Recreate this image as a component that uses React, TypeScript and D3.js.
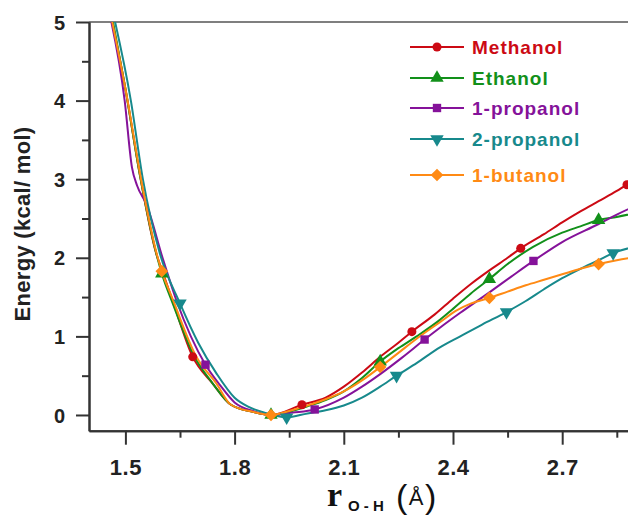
import React, { useEffect, useRef } from 'react';
import * as d3 from 'd3';

// r(O-H) in angstrom, energy in kcal/mol
const methanolX = [1.455, 1.5, 1.54, 1.585, 1.6, 1.63, 1.685, 1.74, 1.79, 1.85, 1.9, 1.985, 2.05, 2.1, 2.15, 2.2, 2.25, 2.287, 2.35, 2.4, 2.45, 2.5, 2.55, 2.586, 2.65, 2.7, 2.75, 2.8, 2.85, 2.878, 2.92];
const methanolY = [5.2, 4.15, 3.05, 2.05, 1.85, 1.45, 0.74, 0.4, 0.13, 0.04, 0, 0.13, 0.22, 0.36, 0.54, 0.74, 0.92, 1.06, 1.28, 1.48, 1.67, 1.84, 2.0, 2.12, 2.3, 2.45, 2.59, 2.72, 2.85, 2.93, 3.03];
const methanolMarks = [1.685, 1.985, 2.287, 2.586, 2.878];

const ethanolX = [1.458, 1.5, 1.54, 1.585, 1.6, 1.63, 1.69, 1.74, 1.79, 1.85, 1.9, 1.95, 2.0, 2.05, 2.1, 2.15, 2.2, 2.25, 2.3, 2.364, 2.4, 2.45, 2.5, 2.55, 2.62, 2.7, 2.75, 2.8, 2.85, 2.92];
const ethanolY = [5.2, 4.15, 3.05, 2.05, 1.8, 1.42, 0.74, 0.4, 0.13, 0.04, 0, 0.04, 0.11, 0.19, 0.3, 0.47, 0.68, 0.85, 1.0, 1.21, 1.35, 1.55, 1.73, 1.92, 2.14, 2.32, 2.4, 2.48, 2.52, 2.59];
const ethanolMarks = [1.6, 1.9, 2.2, 2.5, 2.8];

const propanol1X = [1.452, 1.498, 1.518, 1.532, 1.558, 1.602, 1.64, 1.72, 1.76, 1.8, 1.85, 1.9, 1.96, 2.02, 2.1, 2.15, 2.2, 2.26, 2.322, 2.364, 2.42, 2.5, 2.56, 2.621, 2.7, 2.8, 2.85, 2.92];
const propanol1Y = [5.2, 4.0, 3.15, 2.92, 2.68, 2.0, 1.46, 0.64, 0.38, 0.16, 0.05, 0, 0.03, 0.07, 0.22, 0.36, 0.52, 0.73, 0.96, 1.11, 1.3, 1.56, 1.76, 1.96, 2.2, 2.43, 2.55, 2.7];
const propanol1Marks = [1.72, 2.02, 2.322, 2.621, 2.92];

const propanol2X = [1.462, 1.515, 1.548, 1.595, 1.65, 1.7, 1.75, 1.8, 1.84, 1.89, 1.943, 2.0, 2.05, 2.1, 2.15, 2.2, 2.245, 2.3, 2.364, 2.42, 2.48, 2.547, 2.6, 2.65, 2.7, 2.75, 2.8, 2.84, 2.92];
const propanol2Y = [5.2, 4.0, 3.0, 2.05, 1.42, 0.92, 0.53, 0.22, 0.1, 0.02, -0.03, 0.02, 0.06, 0.12, 0.22, 0.36, 0.5, 0.66, 0.86, 1.0, 1.15, 1.31, 1.45, 1.6, 1.74, 1.86, 1.97, 2.06, 2.16];
const propanol2Marks = [1.65, 1.943, 2.245, 2.547, 2.84];

const butanolX = [1.455, 1.506, 1.543, 1.589, 1.6, 1.631, 1.695, 1.75, 1.79, 1.85, 1.9, 1.95, 2.0, 2.05, 2.1, 2.15, 2.2, 2.25, 2.3, 2.364, 2.41, 2.45, 2.5, 2.55, 2.6, 2.65, 2.7, 2.75, 2.8, 2.85, 2.92];
const butanolY = [5.2, 4.0, 3.0, 2.0, 1.83, 1.46, 0.74, 0.4, 0.13, 0.04, 0, 0.05, 0.12, 0.2, 0.3, 0.44, 0.61, 0.79, 0.97, 1.18, 1.33, 1.42, 1.49, 1.57, 1.65, 1.72, 1.79, 1.86, 1.92, 1.97, 2.02];
const butanolMarks = [1.6, 1.9, 2.2, 2.5, 2.8];

const names = ['Methanol', 'Ethanol', '1-propanol', '2-propanol', '1-butanol'];
const colors = ['#cc0a14', '#12901a', '#85129a', '#17898c', '#ff8a14'];
const yTicks = [0, 1, 2, 3, 4, 5];
const yMinor = [0.5, 1.5, 2.5, 3.5, 4.5];
const xTicks = [1.5, 1.8, 2.1, 2.4, 2.7];
const xMinor = [1.65, 1.95, 2.25, 2.55, 2.85];

const W = 628;
const H = 516;
const FONT = '"Liberation Sans", Arial, sans-serif';

function App() {
    const ref = useRef<SVGSVGElement>(null);

    useEffect(() => {
        const svg = d3.select(ref.current);
        svg.selectAll('*').remove();

        const x = d3.scaleLinear().domain([1.4, 3.0]).range([89, 89 + 1.6 * 364]);
        const y = d3.scaleLinear().domain([-0.2, 5]).range([430.7, 22]);

        // diamond = square turned 45 degrees
        const series = [
            { xs: methanolX, ys: methanolY, marks: methanolMarks, shape: d3.symbolCircle, size: 64, rot: 0 },
            { xs: ethanolX, ys: ethanolY, marks: ethanolMarks, shape: d3.symbolTriangle, size: 78, rot: 0 },
            { xs: propanol1X, ys: propanol1Y, marks: propanol1Marks, shape: d3.symbolSquare, size: 70, rot: 0 },
            { xs: propanol2X, ys: propanol2Y, marks: propanol2Marks, shape: d3.symbolTriangle, size: 78, rot: 180 },
            { xs: butanolX, ys: butanolY, marks: butanolMarks, shape: d3.symbolSquare, size: 80, rot: 45 },
        ];

        svg.append('clipPath').attr('id', 'plot-clip')
            .append('rect').attr('x', 89).attr('y', 22).attr('width', W - 89).attr('height', 409);

        // top frame
        svg.append('line')
            .attr('x1', 89).attr('x2', W).attr('y1', 22).attr('y2', 22)
            .attr('stroke', '#555').attr('stroke-width', 1.6);

        // axes, major + minor ticks
        const axisStyle = (g: any) => {
            g.selectAll('path, line').attr('stroke', '#333').attr('stroke-width', 2);
            g.selectAll('text')
                .attr('font-family', FONT).attr('font-weight', 'bold')
                .attr('font-size', 20).attr('fill', '#222');
        };

        svg.append('g').attr('transform', 'translate(89,0)')
            .call(d3.axisLeft(y).tickValues(yMinor).tickSize(7).tickSizeOuter(0).tickFormat(() => ''))
            .call(axisStyle);
        const gy = svg.append('g').attr('transform', 'translate(89,0)')
            .call(d3.axisLeft(y).tickValues(yTicks).tickSize(13).tickSizeOuter(0).tickPadding(11).tickFormat(d3.format('d')))
            .call(axisStyle);
        gy.selectAll('text').attr('dy', '0.36em');

        svg.append('g').attr('transform', 'translate(0,430.7)')
            .call(d3.axisBottom(x).tickValues(xMinor).tickSize(7).tickSizeOuter(0).tickFormat(() => ''))
            .call(axisStyle);
        const gx = svg.append('g').attr('transform', 'translate(0,430.7)')
            .call(d3.axisBottom(x).tickValues(xTicks).tickSize(14).tickSizeOuter(0).tickFormat(d3.format('.1f')))
            .call(axisStyle);
        gx.selectAll('text').attr('y', 0).attr('dy', 0).attr('transform', 'translate(0,44)')
            .attr('font-size', 22).attr('letter-spacing', 0.5);

        // data
        const line = d3.line<number>()
            .x(d => x(d[0]))
            .y(d => y(d[1]))
            .curve(d3.curveMonotoneX);

        const plot = svg.append('g').attr('clip-path', 'url(#plot-clip)');
        series.forEach((s, i) => {
            const pts = s.xs.map((v, k) => [v, s.ys[k]]);
            plot.append('path')
                .attr('d', line(pts as any))
                .attr('fill', 'none')
                .attr('stroke', colors[i])
                .attr('stroke-width', 2);
        });
        series.forEach((s, i) => {
            const pts = s.xs.map((v, k) => [v, s.ys[k]]).filter(p => s.marks.includes(p[0]));
            svg.append('g').selectAll('path')
                .data(pts)
                .enter()
                .append('path')
                .attr('d', d3.symbol().type(s.shape).size(s.size)())
                .attr('transform', d => 'translate(' + x(d[0]) + ',' + y(d[1]) + ') rotate(' + s.rot + ')')
                .attr('fill', colors[i]);
        });

        // legend
        const legendY = [47, 78, 108, 139, 175];
        names.forEach((name, i) => {
            const s = series[i];
            const g = svg.append('g').attr('transform', 'translate(0,' + legendY[i] + ')');
            g.append('line').attr('x1', 410).attr('x2', 464).attr('y1', 0).attr('y2', 0)
                .attr('stroke', colors[i]).attr('stroke-width', 2);
            g.append('path')
                .attr('d', d3.symbol().type(s.shape).size(s.size)())
                .attr('transform', 'translate(437,0) rotate(' + s.rot + ')')
                .attr('fill', colors[i]);
            g.append('text')
                .attr('x', 472).attr('y', 0).attr('dy', '0.35em')
                .attr('font-family', FONT).attr('font-weight', 'bold')
                .attr('font-size', 19).attr('letter-spacing', 1)
                .attr('fill', colors[i])
                .text(name);
        });

        // axis titles
        svg.append('text')
            .attr('transform', 'translate(30,224) rotate(-90)')
            .attr('text-anchor', 'middle')
            .attr('font-family', FONT).attr('font-weight', 'bold')
            .attr('font-size', 22).attr('letter-spacing', 0.3)
            .attr('fill', '#222')
            .text('Energy (kcal/ mol)');

        const xt = svg.append('g').attr('fill', '#111');
        xt.append('text').attr('x', 327).attr('y', 506)
            .attr('font-family', '"Liberation Serif", "Times New Roman", serif')
            .attr('font-weight', 'bold').attr('font-size', 34).text('r');
        xt.append('text').attr('x', 348).attr('y', 511)
            .attr('font-family', FONT).attr('font-weight', 'bold')
            .attr('font-size', 15).text('O - H');
        xt.append('text').attr('x', 396).attr('y', 508)
            .attr('font-family', FONT).attr('font-size', 34).text('(');
        xt.append('text').attr('x', 416).attr('y', 505)
            .attr('text-anchor', 'middle')
            .attr('font-family', FONT).attr('font-size', 22).text('Å');
        xt.append('text').attr('x', 425).attr('y', 508)
            .attr('font-family', FONT).attr('font-size', 34).text(')');
    }, []);

    return (
        <svg ref={ref} width={W} height={H}
            style={{ position: 'absolute', left: 0, top: 0, background: '#fff' }} />
    );
}

export default App;
